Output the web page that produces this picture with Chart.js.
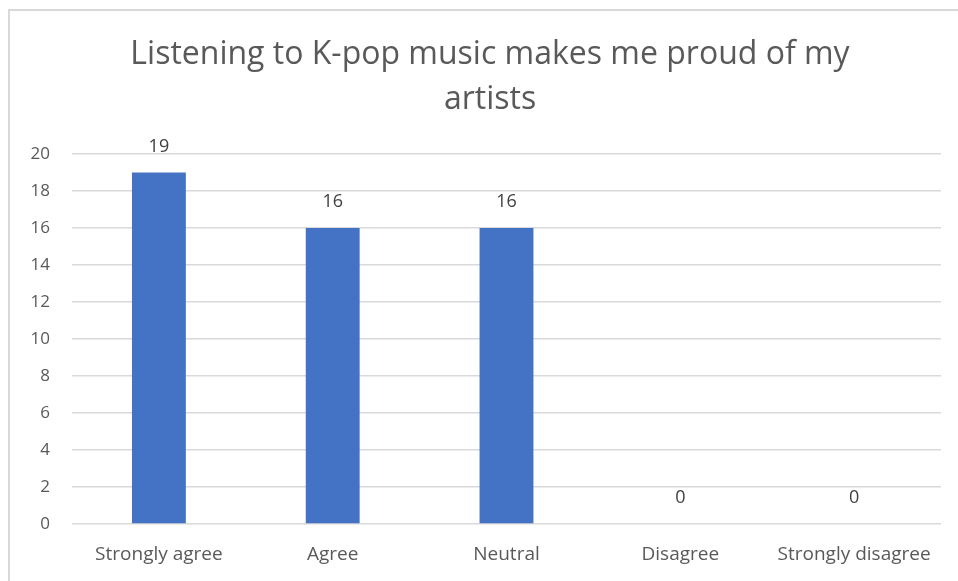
<!DOCTYPE html>
<html>
<head>
<meta charset="utf-8">
<script src="https://cdn.jsdelivr.net/npm/chart.js@4.4.0/dist/chart.umd.min.js"></script>
<style>
  html, body { margin: 0; padding: 0; background: #fff; overflow: hidden; }
  #frame { position: absolute; left: 8px; top: 9px; width: 1000px; height: 700px; border: 2px solid #d9d9d9; }
  #wrap { position: absolute; left: 0; top: 0; width: 958px; height: 581px; }
</style>
</head>
<body>
<div id="frame"></div>
<div id="wrap"><canvas id="kpopChart"></canvas></div>
<script>
const categories = ['Strongly agree', 'Agree', 'Neutral', 'Disagree', 'Strongly disagree'];
const responses = [19, 16, 16, 0, 0];
const titleLines = ['Listening to K-pop music makes me proud of my', 'artists'];

const FONT = "'Open Sans', 'Liberation Sans', sans-serif";

// title drawn by hand so it can sit a little right of the canvas centre
const chartTitle = {
  id: 'chartTitle',
  afterDraw(chart) {
    const { ctx } = chart;
    ctx.save();
    ctx.font = '32px ' + FONT;
    ctx.fillStyle = '#595959';
    ctx.textAlign = 'center';
    ctx.textBaseline = 'alphabetic';
    titleLines.forEach((line, i) => ctx.fillText(line, 490, 64 + i * 45));
    ctx.restore();
  }
};

// value labels sit above each bar
const barValues = {
  id: 'barValues',
  afterDatasetsDraw(chart) {
    const { ctx } = chart;
    const meta = chart.getDatasetMeta(0);
    ctx.save();
    ctx.font = '18px ' + FONT;
    ctx.fillStyle = '#404040';
    ctx.textAlign = 'center';
    ctx.textBaseline = 'middle';
    meta.data.forEach((bar, i) => {
      ctx.fillText(String(responses[i]), bar.x, bar.y - 26);
    });
    ctx.restore();
  }
};

const ctx = document.getElementById('kpopChart').getContext('2d');
new Chart(ctx, {
  type: 'bar',
  data: {
    labels: categories,
    datasets: [{
      data: responses,
      backgroundColor: '#4472C4',
      barPercentage: 0.31,
      categoryPercentage: 1
    }]
  },
  options: {
    responsive: true,
    maintainAspectRatio: false,
    animation: false,
    layout: { padding: { left: 0, right: 17, top: 154, bottom: 0 } },
    scales: {
      x: {
        grid: { display: false },
        border: { display: false },
        ticks: { color: '#595959', font: { family: FONT, size: 19 }, padding: 11, maxRotation: 0 },
        afterFit(scale) { scale.height = 57; }
      },
      y: {
        min: 0,
        max: 20,
        ticks: { stepSize: 2, color: '#595959', font: { family: FONT, size: 17 }, padding: 22 },
        grid: { color: '#d9d9d9', lineWidth: 1.5, drawTicks: false },
        border: { display: false },
        afterFit(scale) { scale.width = 72; }
      }
    },
    plugins: {
      legend: { display: false },
      tooltip: { enabled: false },
      title: { display: false }
    }
  },
  plugins: [barValues, chartTitle]
});
</script>
</body>
</html>
